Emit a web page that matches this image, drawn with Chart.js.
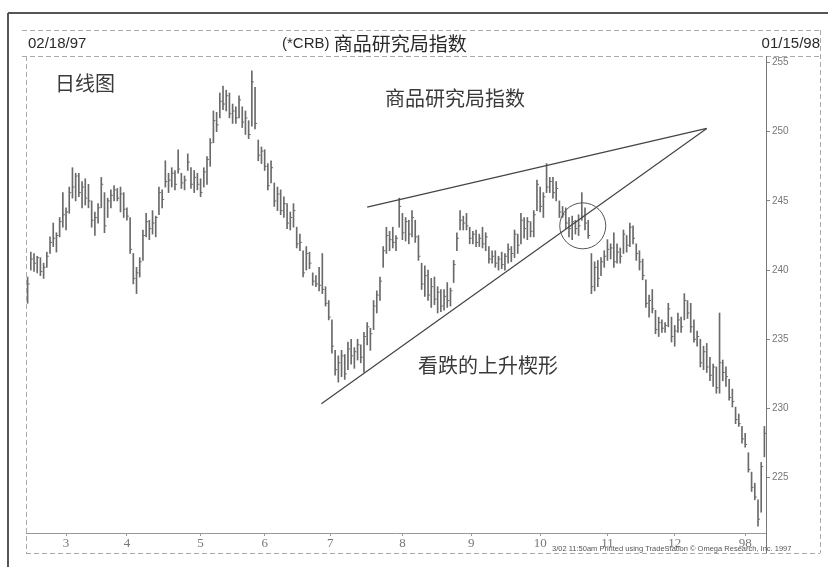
<!DOCTYPE html>
<html><head><meta charset="utf-8">
<script src="https://cdn.jsdelivr.net/npm/chart.js@4.4.0/dist/chart.umd.min.js"></script>
<style>html,body{margin:0;padding:0;background:#fff}#wrap{width:828px;height:567px;position:relative}</style>
</head><body><div id="wrap"><canvas id="c" width="828" height="567"></canvas></div>
<script>
// Daily bars, 02/18/97 .. 01/15/98 (index = trading day)
const highs = [
239.5,241.3,241.2,241.0,240.9,240.5,241.3,242.4,243.4,242.7,
243.8,245.6,244.5,246.0,247.4,247.0,247.0,246.4,246.6,246.2,
245.0,244.2,244.8,246.7,245.6,245.2,245.8,246.1,245.9,246.0,
245.6,244.5,243.8,241.2,240.2,240.9,242.9,244.1,243.6,244.3,
243.9,246.0,245.8,247.9,247.0,247.4,247.2,248.7,247.0,246.8,
248.4,247.4,247.2,247.0,246.6,247.4,248.2,249.5,251.5,251.4,
252.8,253.3,253.0,252.8,252.0,251.8,252.6,251.8,251.5,250.8,
254.4,253.2,249.4,248.9,248.7,247.7,247.9,246.3,246.0,245.8,
245.3,244.8,244.2,244.8,243.1,242.6,241.4,241.7,241.3,239.8,
239.6,240.2,241.2,238.8,237.8,236.4,234.2,233.8,234.2,233.9,
234.8,235.0,234.4,235.0,234.6,235.5,236.2,235.8,237.8,238.5,
239.5,241.7,243.1,242.8,243.1,242.5,245.2,244.1,243.8,243.6,
244.3,243.6,242.5,240.5,240.3,240.0,239.4,239.5,238.8,238.6,
238.6,239.1,238.7,240.7,242.7,244.3,243.9,244.1,243.1,242.8,
242.9,242.6,243.1,242.7,241.7,241.4,241.4,241.0,241.3,241.2,
241.9,241.7,242.9,242.6,244.1,243.8,243.8,243.5,244.3,246.5,
246.0,245.6,247.7,246.7,246.7,246.4,245.0,244.6,244.5,243.8,
243.9,243.6,244.0,245.6,244.5,243.6,241.2,240.6,240.7,240.9,
241.4,242.2,241.9,242.7,241.9,241.6,242.9,242.5,243.4,243.2,
241.9,241.4,240.8,239.3,238.2,238.6,237.1,236.6,236.4,236.2,
237.6,236.6,236.0,236.9,236.6,238.3,237.8,237.6,236.4,235.6,
235.0,234.5,234.7,233.7,233.2,233.0,236.9,233.5,233.0,232.1,
231.4,230.1,229.6,228.7,228.2,226.8,225.4,224.6,223.4,226.1,228.7
];
const lows = [
237.6,240.0,239.9,239.8,239.6,239.4,240.2,241.2,241.7,241.3,
242.4,243.1,242.9,244.1,245.2,245.0,245.3,244.5,244.7,244.5,
243.1,242.5,243.4,244.5,242.7,243.8,244.5,245.0,245.0,244.2,
243.8,243.6,241.2,239.0,238.3,239.5,240.7,242.4,242.2,242.6,
242.4,244.0,244.5,246.0,245.6,246.0,245.8,247.0,245.9,245.8,
247.2,245.9,245.6,245.8,245.3,246.0,246.2,247.5,249.2,250.0,
251.0,251.6,251.5,251.0,250.6,250.6,251.0,250.3,249.8,249.5,
250.4,250.2,247.9,247.7,247.2,245.8,246.3,244.6,244.3,244.0,
243.8,243.0,242.9,243.1,241.6,241.4,239.5,240.0,240.1,238.9,
238.8,238.5,238.3,237.4,236.4,234.0,232.4,231.9,232.3,232.1,
232.8,233.2,232.9,233.5,233.3,232.6,234.6,234.2,235.7,236.9,
237.8,240.2,241.2,241.4,241.6,241.4,243.1,242.2,242.1,241.9,
242.4,242.0,240.7,238.6,238.1,237.8,237.3,237.5,236.9,237.0,
237.1,237.3,237.4,239.1,241.4,242.9,242.9,242.9,241.9,241.9,
241.7,241.7,241.6,241.4,240.5,240.5,240.2,240.0,240.1,240.0,
240.5,240.6,240.9,241.2,241.9,242.3,242.2,242.4,242.4,244.3,
244.2,243.8,245.6,245.6,245.2,245.0,243.8,243.8,243.0,242.4,
242.2,242.6,242.5,243.6,242.9,242.3,238.3,238.5,238.8,239.6,
240.2,240.7,240.8,240.2,240.5,240.5,241.2,241.3,241.7,241.9,
240.7,240.0,239.3,237.3,236.6,236.9,235.4,235.2,235.5,235.5,
235.9,234.8,234.5,235.5,235.5,236.4,236.5,235.5,234.8,234.5,
233.0,232.8,232.6,232.0,231.6,231.1,231.1,232.0,231.6,230.6,
230.1,228.9,228.7,227.5,227.2,225.4,224.0,223.4,221.5,222.5,226.5
];
const closes = [
239.0,240.8,240.5,240.9,239.9,240.2,241.0,242.0,242.3,242.5,
243.5,244.0,244.2,245.6,246.0,246.8,245.6,246.0,245.2,245.0,
243.6,243.8,244.5,246.2,243.2,245.0,245.4,245.8,245.2,245.5,
244.4,243.9,241.5,239.4,239.8,240.6,242.5,243.5,243.0,243.4,
243.8,245.6,245.1,246.4,246.5,247.0,246.2,247.3,246.3,246.5,
247.8,246.2,246.7,246.2,245.6,247.1,248.0,249.2,250.8,250.5,
252.2,252.0,252.6,251.3,251.5,251.0,252.3,250.7,251.0,249.8,
253.6,250.6,248.3,248.6,247.5,246.1,247.4,245.0,245.5,244.3,
244.8,243.4,243.8,244.3,241.9,242.0,239.8,241.2,240.5,239.2,
239.0,238.9,238.6,237.6,236.6,234.5,232.8,233.3,233.8,232.5,
234.3,233.8,234.1,234.6,233.7,235.2,235.9,235.4,237.4,238.2,
239.2,241.4,242.5,242.2,242.0,242.3,244.6,242.7,243.5,242.6,
243.8,242.4,241.0,239.0,239.6,238.2,238.8,237.9,238.4,237.4,
238.1,237.8,238.5,240.4,242.3,243.6,243.4,243.2,242.3,242.6,
242.0,242.3,241.9,242.4,240.8,241.0,240.5,240.8,240.4,241.0,
241.5,241.2,242.6,241.8,243.6,243.0,243.5,242.8,244.0,246.2,
244.6,245.3,246.0,246.4,245.6,245.9,244.2,244.0,243.4,243.0,
243.5,243.0,243.2,243.9,243.4,242.5,238.8,240.2,239.4,240.6,
241.0,241.5,241.6,240.6,241.3,241.0,242.6,241.8,243.1,242.3,
241.2,240.6,239.6,237.6,237.8,237.2,235.7,236.2,235.8,236.0,
237.2,235.2,235.6,236.4,235.9,237.8,236.9,235.9,235.0,235.2,
233.3,234.1,233.0,232.4,233.0,231.5,233.3,232.6,232.3,230.8,
230.5,229.2,228.9,227.8,227.4,225.6,224.3,223.6,222.0,225.8,228.2
];
const monthTicks = [12, 31, 54, 74, 94.5, 117, 138.5, 160, 181, 202, 224];
const monthLabels = ['3','4','5','6','7','8','9','10','11','12','98'];
const yTicks = [225, 230, 235, 240, 245, 250, 255];
const upperLine = [{x:106, y:244.55}, {x:212, y:250.24}];
const lowerLine = [{x:91.7, y:230.34}, {x:212, y:250.24}];
const circleMark = [{x:173.3, y:243.2}];

const BAR = '#6a6a6a';
const frame = {
  id: 'frame',
  afterDraw(chart) {
    const ctx = chart.ctx, a = chart.chartArea;
    const ln = (x1,y1,x2,y2) => { ctx.beginPath(); ctx.moveTo(x1,y1); ctx.lineTo(x2,y2); ctx.stroke(); };
    ctx.save();
    ctx.setLineDash([]); ctx.strokeStyle = '#555'; ctx.lineWidth = 2;
    ln(8, 567, 8, 13); ln(8, 13, 828, 13);
    ctx.lineWidth = 1; ctx.strokeStyle = '#aaa'; ctx.setLineDash([5, 3]);
    ln(22, 30.5, 822, 30.5); ln(22, 56.5, 822, 56.5);
    ln(26.5, 56, 26.5, 553); ln(26, 553.5, 820, 553.5); ln(820.5, 30, 820.5, 553);
    ctx.setLineDash([]); ctx.strokeStyle = '#777';
    ln(a.right + 0.5, 56, a.right + 0.5, 553);
    // header texts
    ctx.fillStyle = '#2a2a2a'; ctx.textBaseline = 'middle';
    ctx.font = '15px "Liberation Sans"'; ctx.textAlign = 'left';
    ctx.fillText('02/18/97', 28, 44);
    ctx.textAlign = 'right'; ctx.fillText('01/15/98', 820, 44);
    ctx.textAlign = 'left';
    const p1 = '(*CRB) ';
    ctx.fillText(p1, 282, 44);
    const w1 = ctx.measureText(p1).width;
    ctx.font = '19px "Noto Sans CJK SC"';
    ctx.fillText('商品研究局指数', 282 + w1, 44);
    // annotations
    ctx.fillStyle = '#3a3a3a';
    ctx.font = '20px "Noto Sans CJK SC"';
    ctx.fillText('日线图', 55, 83);
    ctx.fillText('商品研究局指数', 385, 98);
    ctx.fillText('看跌的上升楔形', 418, 365);
    // footer
    ctx.fillStyle = '#555'; ctx.font = '7.5px "Liberation Sans"';
    ctx.fillText('3/02 11:50am Printed using TradeStation \u00A9 Omega Research, Inc. 1997', 552, 549);
    ctx.restore();
  }
};

new Chart(document.getElementById('c'), {
  type: 'bar',
  data: {
    datasets: [
      { type: 'bar', data: highs.map((h, i) => ({x: i, y: [lows[i], h]})), backgroundColor: BAR, barThickness: 1, borderWidth: 0, order: 3 },
      { type: 'scatter', data: closes.map((c, i) => ({x: i, y: c})), pointStyle: 'dash', pointRadius: 2, borderColor: BAR, borderWidth: 1, backgroundColor: BAR, order: 2 },
      { type: 'line', data: upperLine, borderColor: '#444', borderWidth: 1.2, pointRadius: 0, tension: 0, order: 1 },
      { type: 'line', data: lowerLine, borderColor: '#444', borderWidth: 1.2, pointRadius: 0, tension: 0, order: 1 },
      { type: 'scatter', data: circleMark, pointStyle: 'circle', pointRadius: 23, borderColor: '#555', borderWidth: 1, backgroundColor: 'rgba(0,0,0,0)', order: 0 }
    ]
  },
  options: {
    responsive: false, animation: false, devicePixelRatio: 1,
    layout: { padding: { left: 26, top: 57, right: 0, bottom: 0 } },
    plugins: { legend: { display: false }, tooltip: { enabled: false }, title: { display: false } },
    scales: {
      x: {
        type: 'linear', min: -0.5, max: 230.5, offset: false,
        afterBuildTicks: s => { s.ticks = monthTicks.map(v => ({value: v})); },
        afterFit: s => { s.height = 34; },
        ticks: { autoSkip: false, maxRotation: 0, callback: (v, i) => monthLabels[i], color: '#777', font: { family: 'Liberation Serif', size: 13 }, padding: 0 },
        grid: { drawOnChartArea: false, tickLength: 3, color: '#999', offset: false },
        border: { dash: [4, 3], color: '#999' }
      },
      y: {
        position: 'right', min: 221, max: 255.4,
        afterBuildTicks: s => { s.ticks = yTicks.map(v => ({value: v})); },
        afterFit: s => { s.width = 62; },
        ticks: { color: '#777', font: { family: 'Liberation Sans', size: 10 }, padding: 2 },
        grid: { drawOnChartArea: false, tickLength: 4, color: '#888' },
        border: { display: true, color: '#777' }
      }
    }
  },
  plugins: [frame]
});
</script></body></html>
